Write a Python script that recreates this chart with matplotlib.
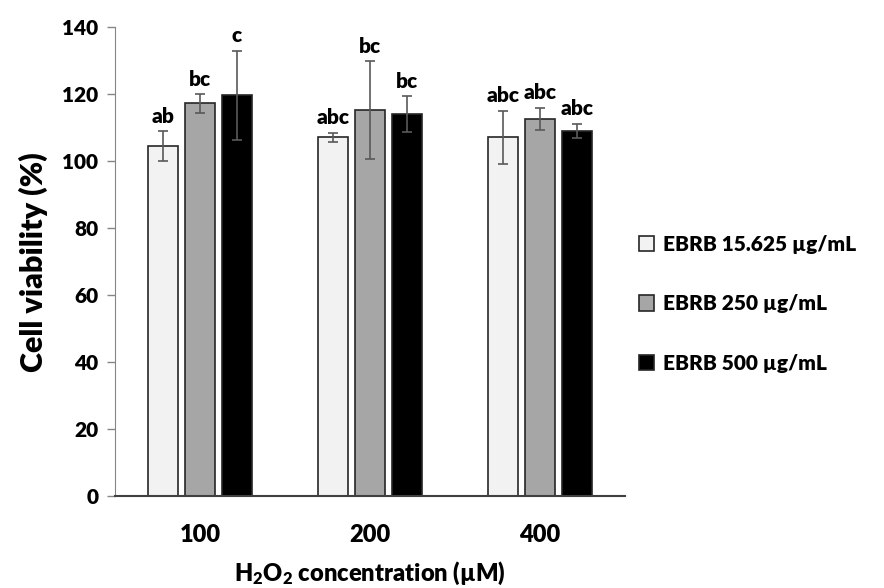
import numpy as np
import matplotlib
matplotlib.use("Agg")
from matplotlib import pyplot as plt

plt.rcParams['font.family'] = ['Lato', 'DejaVu Sans']
plt.rcParams['font.weight'] = 'heavy'
plt.rcParams['mathtext.fontset'] = 'custom'
plt.rcParams['mathtext.rm'] = 'Lato:heavy'
plt.rcParams['mathtext.it'] = 'Lato:heavy'

# data
concentrations = ["100", "200", "400"]
series_names = ["EBRB 15.625 \u00b5g/mL", "EBRB 250 \u00b5g/mL", "EBRB 500 \u00b5g/mL"]
low_dose = [104.4, 107.1, 107.1]
mid_dose = [117.2, 115.2, 112.6]
high_dose = [119.6, 114.1, 109.0]
low_err = [4.5, 1.4, 7.9]
mid_err = [2.7, 14.6, 3.3]
high_err = [13.3, 5.3, 2.1]
low_sig = ["ab", "abc", "abc"]
mid_sig = ["bc", "bc", "abc"]
high_sig = ["c", "bc", "abc"]

colors = ["#f2f2f2", "#a6a6a6", "#000000"]
W = "heavy"

fig = plt.figure(figsize=(8.84, 5.88), dpi=100)
ax = fig.add_axes([0.130, 0.156, 0.577, 0.798])

x = np.arange(len(concentrations))
width = 0.176
step = 0.218
values = [low_dose, mid_dose, high_dose]
errors = [low_err, mid_err, high_err]
sigs = [low_sig, mid_sig, high_sig]

for i in range(3):
    pos = x + (i - 1) * step
    ax.bar(pos, values[i], width, color=colors[i], edgecolor="#262626",
           linewidth=1.2, label=series_names[i], zorder=2)
    ax.errorbar(pos, values[i], yerr=errors[i], fmt="none", ecolor="#595959",
                elinewidth=1.2, capsize=3.5, capthick=1.2, zorder=3)
    for p, v, e, s in zip(pos, values[i], errors[i], sigs[i]):
        ax.annotate(s, (p, v + e), xytext=(0, 4), textcoords="offset points",
                    ha="center", va="bottom", fontsize=15, fontweight=W)

ax.set_xlim(-0.5, 2.5)
ax.set_ylim(0, 140)
ax.set_yticks(np.arange(0, 141, 20))
ax.set_xticks(x)
ax.set_xticklabels(concentrations)
ax.tick_params(axis="x", length=0, pad=20, labelsize=17)
ax.tick_params(axis="y", length=6, width=1, color="#868686", labelsize=15, pad=6)
for lab in ax.get_xticklabels() + ax.get_yticklabels():
    lab.set_fontweight(W)

ax.spines["top"].set_visible(False)
ax.spines["right"].set_visible(False)
ax.spines["left"].set_color("#868686")
ax.spines["bottom"].set_color("#404040")
ax.spines["bottom"].set_linewidth(1.5)

ax.set_ylabel("Cell viability (%)", fontsize=22, fontweight=W, labelpad=10)
ax.set_xlabel("H$_2$O$_2$ concentration (\u00b5M)", fontsize=17, fontweight=W, labelpad=10)

leg = ax.legend(loc="center left", bbox_to_anchor=(0.99, 0.41), frameon=False,
                fontsize=15, handlelength=0.75, handleheight=0.75, handletextpad=0.4,
                labelspacing=1.95)
for t in leg.get_texts():
    t.set_fontweight(W)

fig.savefig("out.png", dpi=100)
